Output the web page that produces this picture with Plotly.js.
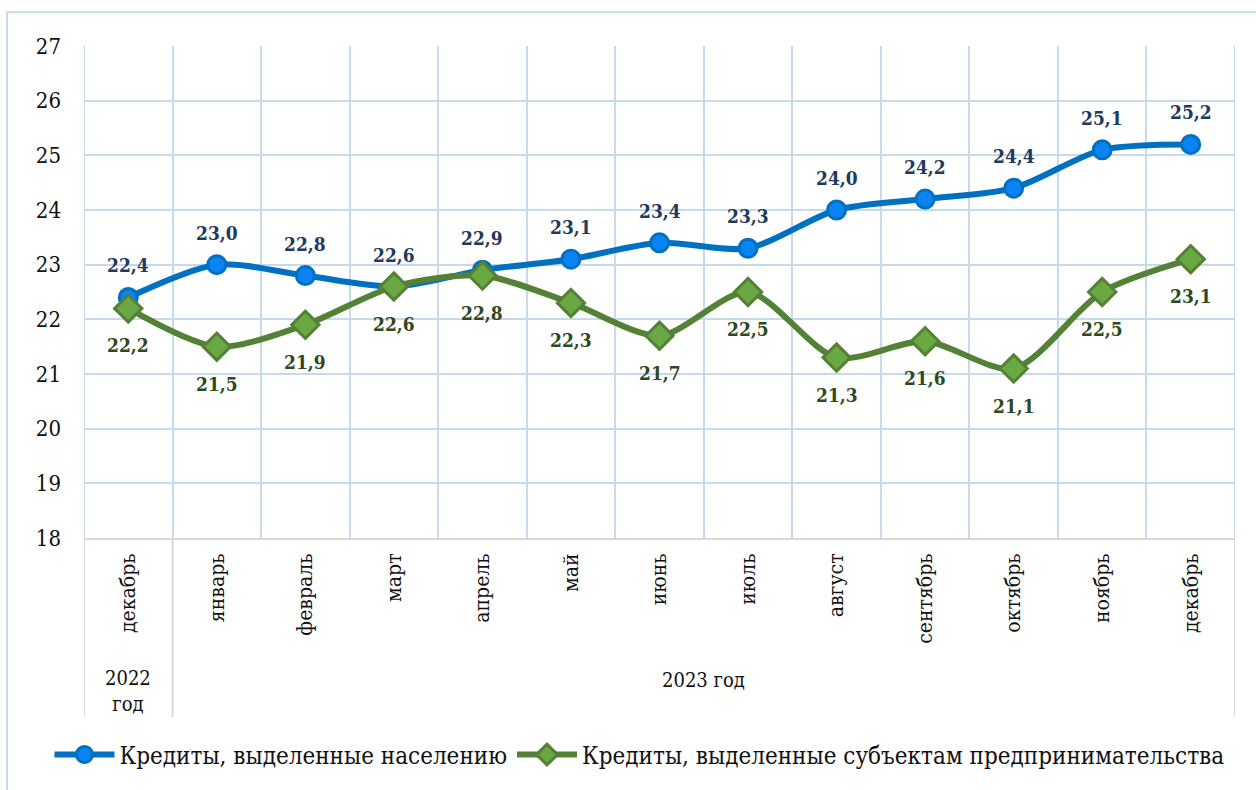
<!DOCTYPE html>
<html>
<head>
<meta charset="utf-8">
<script src="https://cdn.plot.ly/plotly-3.0.1.min.js"></script>
<style>
    html, body { margin: 0; padding: 0; background: #fff; }
    #loan-graph { width: 1256px; height: 790px; }
</style>
</head>
<body>
<div id="loan-graph"></div>
<script>
    'use strict';

    var months = ['декабрь', 'январь', 'февраль', 'март', 'апрель', 'май', 'июнь',
                  'июль', 'август', 'сентябрь', 'октябрь', 'ноябрь', 'декабрь'];
    var yearLabels = ['2022<br>год', '2023 год'];
    var populationLoans = [22.4, 23.0, 22.8, 22.6, 22.9, 23.1, 23.4, 23.3, 24.0, 24.2, 24.4, 25.1, 25.2];
    var businessLoans = [22.2, 21.5, 21.9, 22.6, 22.8, 22.3, 21.7, 22.5, 21.3, 21.6, 21.1, 22.5, 23.1];
    var seriesNames = ['Кредиты, выделенные населению', 'Кредиты, выделенные субъектам предпринимательства'];

    var serif = 'DejaVu Serif Condensed';
    var xIdx = months.map(function (m, i) { return i; });

    function fmt(v) {
        return v.toFixed(1).replace('.', ',');
    }

    createLoanGraph();

    function createLoanGraph() {
        var tracePop = {
            x: xIdx,
            y: populationLoans,
            mode: 'lines+markers',
            name: seriesNames[0],
            line: { color: '#0070c0', width: 6, shape: 'spline', smoothing: 0.8 },
            marker: { symbol: 'circle', size: 18, color: '#0a84f2', line: { color: '#0070c0', width: 3 } }
        };
        var traceBiz = {
            x: xIdx,
            y: businessLoans,
            mode: 'lines+markers',
            name: seriesNames[1],
            line: { color: '#538135', width: 6, shape: 'spline', smoothing: 0.8 },
            marker: { symbol: 'diamond', size: 21, color: '#6aa843', line: { color: '#538135', width: 3 } }
        };

        // data labels: blue above the points, green below
        var annotations = [];
        populationLoans.forEach(function (v, i) {
            annotations.push({
                x: i, y: v, xref: 'x', yref: 'y', text: '<b>' + fmt(v) + '</b>', showarrow: false,
                yshift: 32, font: { family: serif, size: 19, color: '#1f3a5c' }
            });
        });
        businessLoans.forEach(function (v, i) {
            annotations.push({
                x: i, y: v, xref: 'x', yref: 'y', text: '<b>' + fmt(v) + '</b>', showarrow: false,
                yshift: -37, font: { family: serif, size: 19, color: '#2e4a1c' }
            });
        });
        annotations.push({
            x: 0, y: -0.31, xref: 'x', yref: 'paper', text: yearLabels[0], showarrow: false,
            yanchor: 'middle', font: { family: serif, size: 20, color: '#111' }
        });
        annotations.push({
            x: 6.5, y: -0.289, xref: 'x', yref: 'paper', text: yearLabels[1], showarrow: false,
            yanchor: 'middle', font: { family: serif, size: 20, color: '#111' }
        });

        var grey = '#d9d9d9';
        var blue = '#c5d9ef';
        var shapes = [
            // outer chart frame
            { type: 'rect', xref: 'paper', yref: 'paper', x0: -0.0669, x1: 1.2, y0: -0.7, y1: 1.0688,
              line: { color: blue, width: 2 }, layer: 'below' },
            // category dividers below the plot
            { type: 'line', xref: 'x', yref: 'paper', x0: -0.5, x1: -0.5, y0: 0, y1: -0.364, line: { color: grey, width: 2 } },
            { type: 'line', xref: 'x', yref: 'paper', x0: 0.5, x1: 0.5, y0: 0, y1: -0.364, line: { color: grey, width: 2 } },
            { type: 'line', xref: 'x', yref: 'paper', x0: 12.5, x1: 12.5, y0: 0, y1: -0.364, line: { color: grey, width: 2 } },
            // plot edges
            { type: 'line', xref: 'x', yref: 'paper', x0: -0.5, x1: -0.5, y0: 0, y1: 1, line: { color: blue, width: 2 }, layer: 'below' },
            { type: 'line', xref: 'x', yref: 'paper', x0: 12.5, x1: 12.5, y0: 0, y1: 1, line: { color: blue, width: 2 }, layer: 'below' }
        ];

        var layout = {
            width: 1256,
            height: 790,
            margin: { l: 84, r: 21, t: 46, b: 250 },
            paper_bgcolor: '#ffffff',
            plot_bgcolor: '#ffffff',
            showlegend: true,
            legend: {
                orientation: 'h', x: -0.03, y: -0.441, xanchor: 'left', yanchor: 'middle',
                font: { family: serif, size: 24, color: '#111' },
                itemwidth: 60, tracegroupgap: 0
            },
            xaxis: {
                type: 'linear',
                range: [-0.5, 12.5],
                tickvals: xIdx,
                ticktext: months,
                tickangle: -90,
                ticks: '',
                ticklabelstandoff: 5,
                showgrid: false,
                zeroline: false,
                showline: true,
                linecolor: grey,
                linewidth: 2,
                tickfont: { family: serif, size: 21, color: '#111' },
                minor: { tickvals: [0.5, 1.5, 2.5, 3.5, 4.5, 5.5, 6.5, 7.5, 8.5, 9.5, 10.5, 11.5],
                         showgrid: true, gridcolor: blue, gridwidth: 2 }
            },
            yaxis: {
                range: [18, 27],
                dtick: 1,
                showgrid: true,
                gridcolor: blue,
                gridwidth: 2,
                zeroline: false,
                showline: false,
                ticks: '',
                ticklabelstandoff: 22,
                tickfont: { family: serif, size: 22, color: '#111' }
            },
            shapes: shapes,
            annotations: annotations
        };

        Plotly.newPlot('loan-graph', [tracePop, traceBiz], layout, { displayModeBar: false });
    }
</script>
</body>
</html>
